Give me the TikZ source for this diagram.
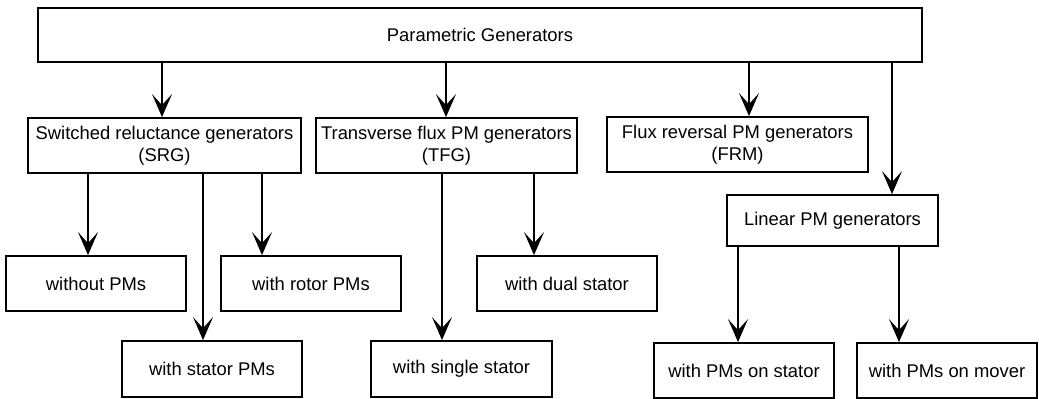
\documentclass[tikz,border=0pt]{standalone}
\usepackage{fontspec}
\setmainfont{Liberation Sans}
\usetikzlibrary{arrows.meta}
\begin{document}
\begin{tikzpicture}[x=0.5pt,y=-0.5pt,
  box/.style={draw,line width=0.9pt,rectangle,inner sep=0pt,align=center,
    font=\fontsize{9.2}{11}\selectfont},
  arr/.style={line width=0.85pt,-{Stealth[length=11.5pt,width=10pt,inset=5.5pt]}}]
\useasboundingbox (0,0) rectangle (1039,399);
\node[box,minimum width=442pt,minimum height=27pt] (top) at (480,35) {Parametric Generators};
\node[box,minimum width=136.5pt,minimum height=27.5pt] (srg) at (164.5,145.5) {Switched reluctance generators\\(SRG)};
\node[box,minimum width=130.5pt,minimum height=27.5pt] (tfg) at (446.5,145.5) {Transverse flux PM generators\\(TFG)};
\node[box,minimum width=130.5pt,minimum height=27.5pt] (frm) at (737.5,144.5) {Flux reversal PM generators\\(FRM)};
\node[box,minimum width=105.5pt,minimum height=25.5pt] (lin) at (832.5,220.5) {Linear PM generators};
\node[box,minimum width=90pt,minimum height=27.5pt] (wo) at (96,283.5) {without PMs};
\node[box,minimum width=90pt,minimum height=27.5pt] (rot) at (311,283.5) {with rotor PMs};
\node[box,minimum width=90pt,minimum height=27.5pt] (dual) at (567,283.5) {with dual stator};
\node[box,minimum width=90pt,minimum height=28pt] (stat) at (212,369) {with stator PMs};
\node[box,minimum width=90.5pt,minimum height=28pt] (single) at (461.5,369) {with single stator};
\node[box,minimum width=90pt,minimum height=27.5pt] (onst) at (744,370.5) {with PMs on stator};
\node[box,minimum width=90pt,minimum height=27.5pt] (onmv) at (947,370.5) {with PMs on mover};
\draw[arr] (top.south -| 162,0) -- (srg.north -| 162,0);
\draw[arr] (top.south -| 446,0) -- (tfg.north -| 446,0);
\draw[arr] (top.south -| 749,0) -- (frm.north -| 749,0);
\draw[arr] (top.south -| 892,0) -- (lin.north -| 892,0);
\draw[arr] (srg.south -| 88,0) -- (wo.north -| 88,0);
\draw[arr] (srg.south -| 203,0) -- (stat.north -| 203,0);
\draw[arr] (srg.south -| 262,0) -- (rot.north -| 262,0);
\draw[arr] (tfg.south -| 442,0) -- (single.north -| 442,0);
\draw[arr] (tfg.south -| 534,0) -- (dual.north -| 534,0);
\draw[arr] (lin.south -| 738,0) -- (onst.north -| 738,0);
\draw[arr] (lin.south -| 899,0) -- (onmv.north -| 899,0);
\end{tikzpicture}
\end{document}
